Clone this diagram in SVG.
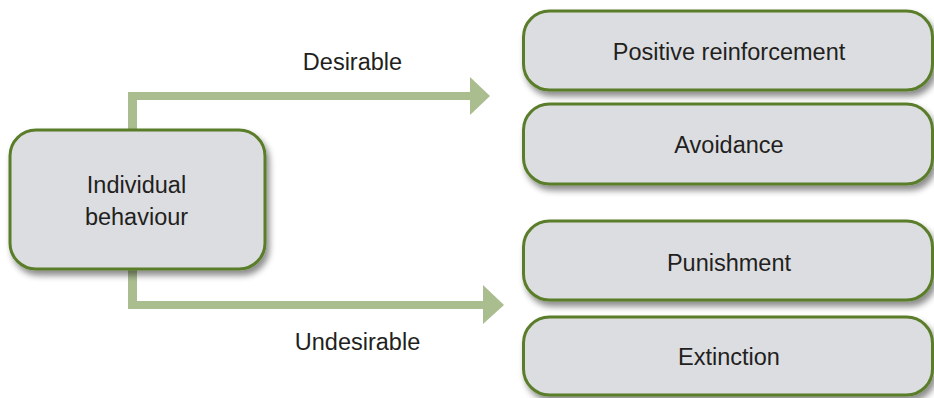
<svg xmlns="http://www.w3.org/2000/svg" width="934" height="398" viewBox="0 0 934 398">
  <defs>
    <filter id="shadow" x="-10%" y="-10%" width="130%" height="140%">
      <feDropShadow dx="3" dy="5" stdDeviation="3" flood-color="#000" flood-opacity="0.45"/>
    </filter>
  </defs>
  <style>
    .box { fill: #dcdde0; stroke: #5a7d2a; stroke-width: 3; filter: url(#shadow); }
    .flow { fill: #aabd8f; }
    .txt { font-family: "Liberation Sans", Arial, sans-serif; font-size: 23.5px; fill: #231f20; text-anchor: middle; }
  </style>

  <rect width="934" height="398" fill="#fff"/>

  <!-- connectors -->
  <g id="connectors">
    <g id="to-desirable">
      <rect class="flow" x="128" y="92" width="9" height="40"/>
      <rect class="flow" x="128" y="92" width="344" height="8"/>
      <polygon class="flow" points="470,77 490,96 470,115"/>
    </g>
    <g id="to-undesirable">
      <rect class="flow" x="128" y="266" width="9" height="43"/>
      <rect class="flow" x="128" y="301" width="357" height="8"/>
      <polygon class="flow" points="483,285 504,305 483,324"/>
    </g>
    <text class="txt" x="352.5" y="69.5">Desirable</text>
    <text class="txt" x="357.5" y="349.5">Undesirable</text>
  </g>

  <!-- nodes -->
  <g id="individual-behaviour">
    <rect class="box" x="10" y="130" width="255" height="139" rx="26"/>
    <text class="txt" x="136.5" y="193">Individual</text>
    <text class="txt" x="136.5" y="224.5">behaviour</text>
  </g>

  <g id="positive-reinforcement">
    <rect class="box" x="523.5" y="11" width="409" height="79" rx="26"/>
    <text class="txt" x="729" y="60">Positive reinforcement</text>
  </g>

  <g id="avoidance">
    <rect class="box" x="523.5" y="104" width="409" height="80" rx="26"/>
    <text class="txt" x="729" y="153">Avoidance</text>
  </g>

  <g id="punishment">
    <rect class="box" x="523.5" y="221" width="409" height="79" rx="26"/>
    <text class="txt" x="729" y="271">Punishment</text>
  </g>

  <g id="extinction">
    <rect class="box" x="523.5" y="317" width="409" height="78" rx="26"/>
    <text class="txt" x="729" y="365">Extinction</text>
  </g>
</svg>
